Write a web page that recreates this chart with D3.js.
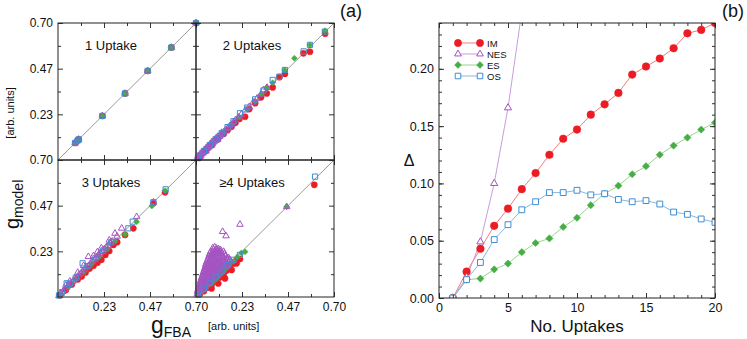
<!DOCTYPE html>
<html>
<head>
<meta charset="utf-8">
<script src="https://cdn.jsdelivr.net/npm/d3@7"></script>
<style>
    body { margin: 0; background: #fff; }
    svg { font-family: "Liberation Sans", Arial, sans-serif; }
</style>
</head>
<body>
<svg id="chart" width="747" height="339"></svg>
<script>
/*globals d3*/

// ---- panel (a): scatter data, [gFBA, gModel] ----
var panelNames = ["1 Uptake", "2 Uptakes", "3 Uptakes", "\u22654 Uptakes"];
var gMajorTicks = [0.2333, 0.4667, 0.70];
var gMinorTicks = [0.1167, 0.35, 0.5833];
var gTickLabels = ["0.23", "0.47", "0.70"];

var onePts = [[0.087, 0.087], [0.10, 0.10], [0.105, 0.105], [0.225, 0.225], [0.34, 0.34],
    [0.455, 0.455], [0.575, 0.575], [0.70, 0.70]];

var im2 = [[0.02, 0.018], [0.05, 0.047], [0.08, 0.076], [0.11, 0.105], [0.14, 0.133], [0.16, 0.152],
    [0.18, 0.17], [0.2, 0.19], [0.22, 0.21], [0.249, 0.221], [0.27, 0.26], [0.3, 0.29], [0.33, 0.32],
    [0.359, 0.34], [0.389, 0.371], [0.423, 0.423], [0.451, 0.44], [0.545, 0.545], [0.578, 0.553], [0.655, 0.645]];
var nes2 = [[0.005, 0.006], [0.01, 0.012], [0.01, 0.02], [0.015, 0.016], [0.02, 0.015], [0.02, 0.022], [0.02, 0.03],
    [0.025, 0.024], [0.03, 0.033], [0.03, 0.04], [0.035, 0.036], [0.04, 0.041], [0.04, 0.05], [0.045, 0.048],
    [0.05, 0.045], [0.05, 0.05], [0.05, 0.06], [0.055, 0.058], [0.06, 0.061], [0.06, 0.07], [0.065, 0.066],
    [0.07, 0.073], [0.07, 0.08], [0.075, 0.075], [0.08, 0.076], [0.08, 0.083], [0.08, 0.092], [0.085, 0.086],
    [0.09, 0.092], [0.09, 0.1], [0.095, 0.097], [0.10, 0.101], [0.10, 0.11], [0.105, 0.108], [0.11, 0.105],
    [0.11, 0.11], [0.11, 0.12], [0.115, 0.118], [0.12, 0.12], [0.125, 0.128], [0.13, 0.131], [0.13, 0.14],
    [0.14, 0.142], [0.15, 0.153], [0.16, 0.162], [0.17, 0.173], [0.18, 0.181], [0.19, 0.193], [0.2, 0.204],
    [0.215, 0.218], [0.23, 0.233], [0.25, 0.255], [0.27, 0.272], [0.29, 0.295], [0.31, 0.315], [0.33, 0.336],
    [0.342, 0.358], [0.36, 0.37]];
var es2 = [[0.02, 0.02], [0.06, 0.06], [0.1, 0.1], [0.14, 0.14], [0.18, 0.18], [0.22, 0.22], [0.26, 0.26],
    [0.3, 0.3], [0.33, 0.335], [0.359, 0.371], [0.389, 0.395], [0.45, 0.46], [0.499, 0.52], [0.578, 0.588], [0.654, 0.66]];
var os2 = [[0.01, 0.012], [0.04, 0.045], [0.07, 0.076], [0.1, 0.106], [0.13, 0.137], [0.16, 0.168], [0.19, 0.198],
    [0.223, 0.239], [0.26, 0.268], [0.3, 0.31], [0.342, 0.355], [0.389, 0.409], [0.423, 0.426], [0.451, 0.46],
    [0.546, 0.555], [0.578, 0.588], [0.654, 0.656]];

var im3 = [[0.01, 0.009], [0.04, 0.036], [0.07, 0.064], [0.1, 0.09], [0.12, 0.105], [0.14, 0.125], [0.16, 0.145],
    [0.18, 0.16], [0.2, 0.175], [0.22, 0.19], [0.24, 0.215], [0.26, 0.235], [0.281, 0.266], [0.3, 0.28],
    [0.34, 0.317], [0.382, 0.351], [0.484, 0.479], [0.543, 0.535]];
var nes3 = [[0.005, 0.006], [0.015, 0.017], [0.025, 0.028], [0.035, 0.038], [0.04, 0.06], [0.045, 0.05],
    [0.055, 0.06], [0.06, 0.08], [0.065, 0.07], [0.075, 0.08], [0.085, 0.092], [0.095, 0.1], [0.1, 0.125],
    [0.105, 0.112], [0.115, 0.12], [0.125, 0.132], [0.13, 0.16], [0.135, 0.142], [0.145, 0.152], [0.154, 0.206],
    [0.155, 0.16], [0.165, 0.172], [0.175, 0.182], [0.18, 0.21], [0.185, 0.19], [0.195, 0.202], [0.2, 0.23],
    [0.205, 0.215], [0.215, 0.224], [0.22, 0.25], [0.225, 0.232], [0.235, 0.245], [0.245, 0.255], [0.255, 0.262],
    [0.26, 0.29], [0.265, 0.275], [0.275, 0.285], [0.289, 0.325], [0.3, 0.31], [0.323, 0.351], [0.399, 0.41], [0.484, 0.484]];
var es3 = [[0.01, 0.01], [0.05, 0.05], [0.09, 0.09], [0.13, 0.128], [0.17, 0.168], [0.21, 0.207], [0.25, 0.245],
    [0.29, 0.285], [0.34, 0.32], [0.399, 0.385], [0.476, 0.465], [0.543, 0.543]];
var os3 = [[0.005, 0.008], [0.02, 0.025], [0.044, 0.07], [0.06, 0.068], [0.09, 0.098], [0.125, 0.172],
    [0.15, 0.158], [0.19, 0.198], [0.23, 0.238], [0.27, 0.28], [0.357, 0.351], [0.379, 0.385], [0.484, 0.484], [0.546, 0.55]];

var im4 = [[0.02, 0.015], [0.04, 0.03], [0.06, 0.048], [0.079, 0.044], [0.08, 0.065], [0.1, 0.082],
    [0.113, 0.069], [0.12, 0.1], [0.14, 0.118], [0.147, 0.095], [0.155, 0.135], [0.17, 0.15], [0.181, 0.138],
    [0.19, 0.17], [0.206, 0.172], [0.21, 0.19], [0.223, 0.194], [0.6, 0.573]];
var nes4 = [[0.085, 0.25], [0.095, 0.255], [0.105, 0.248], [0.115, 0.245], [0.125, 0.24],
    [0.09, 0.242], [0.108, 0.238], [0.12, 0.232],
    [0.075, 0.232], [0.088, 0.228], [0.1, 0.235], [0.112, 0.226], [0.13, 0.228], [0.14, 0.232],
    [0.07, 0.222], [0.082, 0.218], [0.095, 0.222], [0.108, 0.218], [0.122, 0.22], [0.145, 0.22],
    [0.066, 0.21], [0.078, 0.214], [0.09, 0.208], [0.104, 0.212], [0.118, 0.205], [0.132, 0.21], [0.15, 0.21], [0.165, 0.2],
    [0.062, 0.198], [0.076, 0.202], [0.088, 0.198], [0.1, 0.2], [0.114, 0.196], [0.128, 0.2], [0.142, 0.198], [0.158, 0.2],
    [0.058, 0.188], [0.07, 0.192], [0.082, 0.186], [0.096, 0.19], [0.11, 0.186], [0.124, 0.192], [0.138, 0.186],
    [0.155, 0.19], [0.172, 0.19],
    [0.054, 0.178], [0.066, 0.182], [0.078, 0.176], [0.092, 0.18], [0.106, 0.176], [0.12, 0.18], [0.134, 0.176],
    [0.15, 0.18], [0.165, 0.178],
    [0.05, 0.168], [0.062, 0.172], [0.075, 0.165], [0.088, 0.17], [0.102, 0.166], [0.116, 0.172], [0.13, 0.165],
    [0.145, 0.17], [0.16, 0.166],
    [0.048, 0.158], [0.06, 0.162], [0.072, 0.156], [0.085, 0.16], [0.098, 0.156], [0.112, 0.16], [0.126, 0.156],
    [0.14, 0.16], [0.155, 0.16],
    [0.045, 0.148], [0.056, 0.152], [0.068, 0.146], [0.08, 0.15], [0.094, 0.145], [0.108, 0.15], [0.122, 0.146],
    [0.138, 0.15], [0.152, 0.152],
    [0.042, 0.138], [0.052, 0.142], [0.064, 0.136], [0.076, 0.14], [0.09, 0.135], [0.104, 0.14], [0.118, 0.136], [0.134, 0.14],
    [0.038, 0.128], [0.05, 0.132], [0.062, 0.126], [0.074, 0.13], [0.088, 0.125], [0.1, 0.13], [0.114, 0.126], [0.13, 0.132],
    [0.035, 0.118], [0.046, 0.122], [0.058, 0.116], [0.07, 0.12], [0.084, 0.115], [0.098, 0.12], [0.112, 0.12],
    [0.032, 0.108], [0.044, 0.112], [0.056, 0.106], [0.068, 0.11], [0.08, 0.105], [0.094, 0.11], [0.108, 0.112],
    [0.028, 0.098], [0.04, 0.102], [0.052, 0.096], [0.064, 0.1], [0.078, 0.096], [0.092, 0.1],
    [0.025, 0.088], [0.036, 0.092], [0.048, 0.086], [0.06, 0.09], [0.072, 0.086], [0.086, 0.092],
    [0.022, 0.078], [0.034, 0.082], [0.046, 0.076], [0.058, 0.08], [0.07, 0.08],
    [0.02, 0.068], [0.03, 0.072], [0.042, 0.066], [0.054, 0.07], [0.066, 0.074],
    [0.018, 0.058], [0.028, 0.062], [0.04, 0.06], [0.052, 0.062],
    [0.014, 0.048], [0.024, 0.052], [0.036, 0.05], [0.048, 0.054],
    [0.01, 0.038], [0.022, 0.042], [0.034, 0.044],
    [0.008, 0.028], [0.018, 0.032], [0.03, 0.035], [0.004, 0.01], [0.012, 0.015],
    [0.135, 0.334], [0.152, 0.312], [0.223, 0.371], [0.46, 0.461]];
var es4 = [[0.01, 0.01], [0.03, 0.028], [0.05, 0.047], [0.07, 0.066], [0.08, 0.07], [0.09, 0.085], [0.1, 0.09],
    [0.11, 0.104], [0.12, 0.11], [0.13, 0.124], [0.14, 0.13], [0.15, 0.143], [0.17, 0.163], [0.19, 0.183],
    [0.21, 0.205], [0.23, 0.225], [0.249, 0.231], [0.46, 0.461]];
var os4 = [[0.01, 0.012], [0.04, 0.042], [0.07, 0.072], [0.1, 0.1], [0.13, 0.13], [0.16, 0.162], [0.19, 0.19],
    [0.223, 0.215], [0.604, 0.615]];

var scatterIM = [onePts, im2, im3, im4];
var scatterNES = [onePts, nes2, nes3, nes4];
var scatterES = [onePts, es2, es3, es4];
var scatterOS = [onePts, os2, os3, os4];

// ---- panel (b): Delta vs number of uptakes ----
var uptakes = [1, 2, 3, 4, 5, 6, 7, 8, 9, 10, 11, 12, 13, 14, 15, 16, 17, 18, 19, 20];
var deltaIM = [0, 0.023, 0.043, 0.063, 0.078, 0.095, 0.109, 0.125, 0.139, 0.147, 0.160, 0.169, 0.179,
    0.195, 0.202, 0.209, 0.218, 0.231, 0.234, 0.240];
var deltaNES = [0, 0.018, 0.049, 0.100, 0.166, 0.25];
var deltaES = [0, 0.016, 0.017, 0.025, 0.030, 0.040, 0.048, 0.052, 0.062, 0.070, 0.081, 0.091, 0.098,
    0.108, 0.115, 0.125, 0.133, 0.140, 0.147, 0.153];
var deltaOS = [0, 0.016, 0.031, 0.051, 0.064, 0.077, 0.084, 0.092, 0.092, 0.094, 0.090, 0.091, 0.086,
    0.084, 0.085, 0.082, 0.075, 0.073, 0.069, 0.066];
var uptakeTicks = [0, 5, 10, 15, 20];
var deltaTicks = [0, 0.05, 0.10, 0.15, 0.20];
var methods = ["IM", "NES", "ES", "OS"];

var styles = {
    IM: {color: "#ec1c24", line: "#f27c7c", shape: "circle", fill: true},
    NES: {color: "#a453c2", line: "#c99ddc", shape: "triangle", fill: false},
    ES: {color: "#45ae44", line: "#98d48f", shape: "diamond", fill: true},
    OS: {color: "#3f8ed2", line: "#88b8e4", shape: "square", fill: false}
};

var svg = d3.select("#chart");

function symbolPath(shape, scale) {
    "use strict";
    var sizes = {circle: 46, triangle: 22, diamond: 26, square: 34};
    var types = {circle: d3.symbolCircle, triangle: d3.symbolTriangle, diamond: d3.symbolSquare, square: d3.symbolSquare};
    return d3.symbol().type(types[shape]).size(sizes[shape] * scale)();
}

function drawMarkers(g, pts, name, scale, openFill) {
    "use strict";
    var st = styles[name];
    g.append("g").selectAll("path").data(pts)
        .enter().append("path")
        .attr("d", symbolPath(st.shape, scale))
        .attr("transform", function (d) {
            return "translate(" + d[0] + "," + d[1] + ")" + (st.shape === "diamond" ? " rotate(45)" : "");
        })
        .attr("fill", st.fill ? st.color : openFill)
        .attr("stroke", st.color)
        .attr("stroke-width", st.fill ? 0.5 : 1);
}

function inwardAxes(g, x, y, w, h, opt) {
    "use strict";
    var ax;
    ax = g.append("g").attr("transform", "translate(0," + h + ")")
        .call(d3.axisBottom(x).tickValues(opt.xMajor).tickSize(-opt.major).tickPadding(5)
            .tickFormat(opt.xLabels ? opt.xFmt : ""));
    ax.select(".domain").remove();
    ax = g.append("g").attr("transform", "translate(0," + h + ")")
        .call(d3.axisBottom(x).tickValues(opt.xMinor).tickSize(-opt.minor).tickFormat(""));
    ax.select(".domain").remove();
    ax = g.append("g").call(d3.axisTop(x).tickValues(opt.xMajor).tickSize(-opt.major).tickFormat(""));
    ax.select(".domain").remove();
    ax = g.append("g").call(d3.axisTop(x).tickValues(opt.xMinor).tickSize(-opt.minor).tickFormat(""));
    ax.select(".domain").remove();
    ax = g.append("g")
        .call(d3.axisLeft(y).tickValues(opt.yMajor).tickSize(-opt.major).tickPadding(5)
            .tickFormat(opt.yLabels ? opt.yFmt : ""));
    ax.select(".domain").remove();
    ax = g.append("g").call(d3.axisLeft(y).tickValues(opt.yMinor).tickSize(-opt.minor).tickFormat(""));
    ax.select(".domain").remove();
    ax = g.append("g").attr("transform", "translate(" + w + ",0)")
        .call(d3.axisRight(y).tickValues(opt.yMajor).tickSize(-opt.major).tickFormat(""));
    ax.select(".domain").remove();
    ax = g.append("g").attr("transform", "translate(" + w + ",0)")
        .call(d3.axisRight(y).tickValues(opt.yMinor).tickSize(-opt.minor).tickFormat(""));
    ax.select(".domain").remove();
    g.selectAll(".tick line").attr("stroke", "#333");
    g.selectAll(".tick text").attr("font-size", 12).attr("font-family", "Liberation Sans, Arial, sans-serif").attr("fill", "#111");
    g.append("rect").attr("width", w).attr("height", h)
        .attr("fill", "none").attr("stroke", "#222").attr("stroke-width", 1);
}

// ---------- panel (a) ----------
var cellW = 138, cellH = 137, leftX = 58, topY = 23;
var gx = d3.scaleLinear().domain([0, 0.7]).range([0, cellW]);
var gy = d3.scaleLinear().domain([0, 0.7]).range([cellH, 0]);
var gFmt = function (d) { return gTickLabels[gMajorTicks.indexOf(d)]; };

panelNames.forEach(function (name, i) {
    "use strict";
    var col = i % 2, row = Math.floor(i / 2), cell, proj;
    cell = svg.append("g")
        .attr("transform", "translate(" + (leftX + col * cellW) + "," + (topY + row * cellH) + ")");
    cell.append("line")
        .attr("x1", gx(0)).attr("y1", gy(0)).attr("x2", gx(0.7)).attr("y2", gy(0.7))
        .attr("stroke", "#9a9a9a").attr("stroke-width", 1);
    proj = function (arr) { return arr.map(function (p) { return [gx(p[0]), gy(p[1])]; }); };
    drawMarkers(cell, proj(scatterIM[i]), "IM", 0.65, "none");
    drawMarkers(cell, proj(scatterES[i]), "ES", 0.7, "none");
    drawMarkers(cell, proj(scatterNES[i]), "NES", 0.85, "none");
    drawMarkers(cell, proj(scatterOS[i]), "OS", 0.8, "none");
    inwardAxes(cell, gx, gy, cellW, cellH, {
        xMajor: gMajorTicks, xMinor: gMinorTicks, yMajor: gMajorTicks, yMinor: gMinorTicks,
        major: 5, minor: 3, xLabels: row === 1, yLabels: col === 0, xFmt: gFmt, yFmt: gFmt
    });
    cell.append("text")
        .attr("x", col === 0 ? 53 : 56).attr("y", 27)
        .attr("text-anchor", "middle").attr("font-size", 13).attr("fill", "#111")
        .text(name);
});

var gModel = svg.append("text")
    .attr("transform", "translate(19,229) rotate(-90)")
    .attr("fill", "#111");
gModel.append("tspan").attr("font-size", 20).text("g");
gModel.append("tspan").attr("font-size", 14).attr("dy", 4).text("model");
svg.append("text")
    .attr("transform", "translate(14,113) rotate(-90)")
    .attr("text-anchor", "middle").attr("font-size", 11).attr("fill", "#111")
    .text("[arb. units]");

var gFba = svg.append("text").attr("x", 151).attr("y", 333).attr("fill", "#111");
gFba.append("tspan").attr("font-size", 23).text("g");
gFba.append("tspan").attr("font-size", 14).attr("dy", 4).text("FBA");
svg.append("text").attr("x", 208).attr("y", 330)
    .attr("font-size", 11).attr("fill", "#111").text("[arb. units]");

svg.append("text").attr("x", 340).attr("y", 17).attr("font-size", 18).attr("fill", "#111").text("(a)");

// ---------- panel (b) ----------
var bx0 = 439, by0 = 23, bw = 276, bh = 275;
var bx = d3.scaleLinear().domain([0, 20]).range([0, bw]);
var by = d3.scaleLinear().domain([0, 0.24]).range([bh, 0]);
var pb = svg.append("g").attr("transform", "translate(" + bx0 + "," + by0 + ")");

pb.append("clipPath").attr("id", "clipb")
    .append("rect").attr("width", bw).attr("height", bh);

var series = {IM: deltaIM, NES: deltaNES, ES: deltaES, OS: deltaOS};
var plotArea = pb.append("g").attr("clip-path", "url(#clipb)");
var lineGen = d3.line().x(function (d) { return d[0]; }).y(function (d) { return d[1]; });

methods.forEach(function (m) {
    "use strict";
    var pts = series[m].map(function (v, k) { return [bx(uptakes[k]), by(v)]; });
    plotArea.append("path").attr("d", lineGen(pts))
        .attr("fill", "none").attr("stroke", styles[m].line).attr("stroke-width", 1);
});
methods.forEach(function (m) {
    "use strict";
    var pts = series[m].map(function (v, k) { return [bx(uptakes[k]), by(v)]; });
    drawMarkers(plotArea, pts, m, 1, "#fff");
});

inwardAxes(pb, bx, by, bw, bh, {
    xMajor: uptakeTicks, xMinor: d3.range(0, 21), yMajor: deltaTicks, yMinor: d3.range(0, 0.241, 0.01),
    major: 5, minor: 3, xLabels: true, yLabels: true,
    xFmt: d3.format("d"), yFmt: d3.format(".2f")
});
pb.selectAll(".tick text").attr("font-size", 12.5);

// legend
var legend = pb.append("g").attr("transform", "translate(19,20)");
methods.forEach(function (m, k) {
    "use strict";
    var row = legend.append("g").attr("transform", "translate(0," + k * 11 + ")");
    row.append("line").attr("x1", 0).attr("x2", 22)
        .attr("stroke", styles[m].line).attr("stroke-width", 1);
    drawMarkers(row, [[0, 0], [22, 0]], m, 0.9, "#fff");
    row.append("text").attr("x", 29).attr("y", 3.5)
        .attr("font-size", 9.5).attr("fill", "#111").text(m);
});

svg.append("text").attr("x", 577).attr("y", 332).attr("text-anchor", "middle")
    .attr("font-size", 17).attr("fill", "#111").text("No. Uptakes");
svg.append("text").attr("x", 409).attr("y", 166).attr("text-anchor", "middle")
    .attr("font-size", 16).attr("fill", "#111").text("\u0394");
svg.append("text").attr("x", 722).attr("y", 17).attr("font-size", 18).attr("fill", "#111").text("(b)");
</script>
</body>
</html>
